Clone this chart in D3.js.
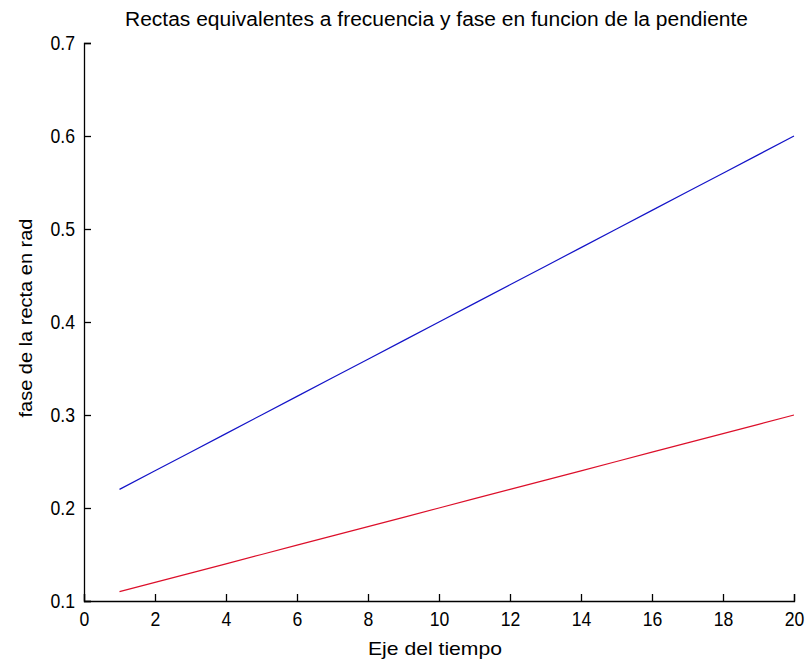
<!DOCTYPE html>
<html>
<head>
<meta charset="utf-8">
<script src="https://cdn.jsdelivr.net/npm/d3@7"></script>
<style>
  body { margin: 0; background: #fff; }
  text { font-family: "Liberation Sans", Arial, Helvetica, sans-serif; fill: #000; }
</style>
</head>
<body>
<svg id="chart" width="806" height="661"></svg>
<script>
// Time axis samples
const tiempo = [1, 2, 3, 4, 5, 6, 7, 8, 9, 10, 11, 12, 13, 14, 15, 16, 17, 18, 19, 20];
// Phase of each line (rad)
const faseAzul = [0.22, 0.24, 0.26, 0.28, 0.30, 0.32, 0.34, 0.36, 0.38, 0.40,
                  0.42, 0.44, 0.46, 0.48, 0.50, 0.52, 0.54, 0.56, 0.58, 0.60];
const faseRoja = [0.11, 0.12, 0.13, 0.14, 0.15, 0.16, 0.17, 0.18, 0.19, 0.20,
                  0.21, 0.22, 0.23, 0.24, 0.25, 0.26, 0.27, 0.28, 0.29, 0.30];
const xTicks = [0, 2, 4, 6, 8, 10, 12, 14, 16, 18, 20];
const yTicks = [0.1, 0.2, 0.3, 0.4, 0.5, 0.6, 0.7];

const svg = d3.select("#chart");
const m = { left: 84, right: 12, top: 43, bottom: 60 };
const W = 806, H = 661;
const narrow = 0.84; // horizontal squeeze of tick glyphs

const x = d3.scaleLinear().domain([0, 20]).range([m.left, W - m.right]);
const y = d3.scaleLinear().domain([0.1, 0.7]).range([H - m.bottom, m.top]);

// Axes with inward ticks
const gx = svg.append("g").attr("transform", `translate(0,${H - m.bottom})`)
  .call(d3.axisBottom(x).tickValues(xTicks).tickSize(-7).tickPadding(10).tickFormat(d3.format("d")));
const gy = svg.append("g").attr("transform", `translate(${m.left},0)`)
  .call(d3.axisLeft(y).tickValues(yTicks).tickSize(-7).tickPadding(9).tickFormat(d3.format(".1f")));

[gx, gy].forEach(g => {
  g.select(".domain").attr("stroke", "#000").attr("stroke-width", 1.3);
  g.selectAll(".tick line").attr("stroke", "#000").attr("stroke-width", 1.3);
  g.selectAll(".tick text")
    .attr("fill", "#000")
    .style("font-family", "'Liberation Sans', Arial, sans-serif")
    .style("font-size", "21px")
    .attr("transform", `scale(${narrow},1)`);
});
gy.selectAll(".tick text").attr("x", -9 / narrow);

const line = d3.line().x((d, i) => x(tiempo[i])).y(d => y(d));

svg.append("path").datum(faseAzul).attr("d", line)
  .attr("fill", "none").attr("stroke", "#1414c8").attr("stroke-width", 1.2);
svg.append("path").datum(faseRoja).attr("d", line)
  .attr("fill", "none").attr("stroke", "#dc0f2a").attr("stroke-width", 1.2);

svg.append("text").attr("x", 436.5).attr("y", 26).attr("text-anchor", "middle")
  .style("font-size", "20px").attr("textLength", 623).attr("lengthAdjust", "spacingAndGlyphs")
  .text("Rectas equivalentes a frecuencia y fase en funcion de la pendiente");

svg.append("text").attr("x", 435).attr("y", 655).attr("text-anchor", "middle")
  .style("font-size", "19px").attr("textLength", 134).attr("lengthAdjust", "spacingAndGlyphs")
  .text("Eje del tiempo");

svg.append("text").attr("transform", "translate(32,318) rotate(-90)").attr("text-anchor", "middle")
  .style("font-size", "19px").attr("textLength", 199).attr("lengthAdjust", "spacingAndGlyphs")
  .text("fase de la recta en rad");
</script>
</body>
</html>
